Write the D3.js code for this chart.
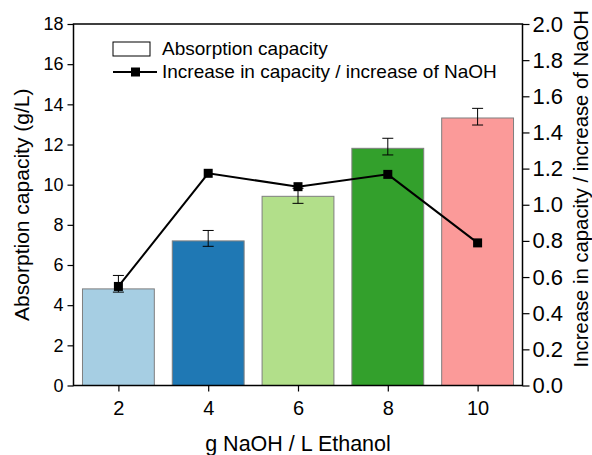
<!DOCTYPE html>
<html>
<head>
<meta charset="utf-8">
<script src="https://cdn.jsdelivr.net/npm/d3@7"></script>
<style>
  body { margin: 0; background: #fff; }
  svg text { font-family: Arial, "Liberation Sans", sans-serif; fill: #000; }
</style>
</head>
<body>
<svg id="chart" width="592" height="455"></svg>
<script>
// NaOH concentration (g/L ethanol)
const naoh = [2, 4, 6, 8, 10];
// absorption capacity (g/L) with lower / upper error
const capacity = [4.81, 7.2, 9.42, 11.81, 13.32];
const errLow = [0.16, 0.27, 0.35, 0.33, 0.35];
const errHigh = [0.67, 0.52, 0.4, 0.5, 0.48];
// increase in capacity / increase of NaOH (right axis)
const ratio = [0.548, 1.174, 1.10, 1.168, 0.789];
const barColors = ["#a6cee3", "#1f78b4", "#b2df8a", "#33a02c", "#fb9a99"];
const leftTicks = d3.range(0, 19, 2);
const rightTicks = d3.range(0, 2.01, 0.2);

const svg = d3.select("#chart");
const m = { left: 73.5, right: 522.5, top: 24, bottom: 385.5 };

const x = d3.scaleLinear().domain([1, 11]).range([m.left, m.right]);
const yL = d3.scaleLinear().domain([0, 18]).range([m.bottom, m.top]);
const yR = d3.scaleLinear().domain([0, 2]).range([m.bottom, m.top]);
const barW = x(2.6) - x(1);

// bars
svg.append("g")
  .selectAll("rect")
  .data(naoh)
  .enter()
  .append("rect")
  .attr("x", (d) => x(d) - barW / 2)
  .attr("y", (d, i) => yL(capacity[i]))
  .attr("width", barW)
  .attr("height", (d, i) => yL(0) - yL(capacity[i]))
  .style("fill", (d, i) => barColors[i])
  .style("stroke", "#7f7f7f")
  .style("stroke-width", 1);

// error bars
const eb = svg.append("g").style("stroke", "#000").style("stroke-width", 1);
naoh.forEach((d, i) => {
  const lo = yL(capacity[i] - errLow[i]);
  const hi = yL(capacity[i] + errHigh[i]);
  eb.append("line").attr("x1", x(d)).attr("x2", x(d)).attr("y1", lo).attr("y2", hi);
  eb.append("line").attr("x1", x(d) - 5.5).attr("x2", x(d) + 5.5).attr("y1", lo).attr("y2", lo);
  eb.append("line").attr("x1", x(d) - 5.5).attr("x2", x(d) + 5.5).attr("y1", hi).attr("y2", hi);
});

// line + markers
const line = d3.line().x((d) => x(d)).y((d, i) => yR(ratio[i]));
svg.append("path")
  .datum(naoh)
  .attr("d", line)
  .style("fill", "none")
  .style("stroke", "#000")
  .style("stroke-width", 2);
svg.append("g")
  .selectAll("rect")
  .data(naoh)
  .enter()
  .append("rect")
  .attr("x", (d) => x(d) - 4.5)
  .attr("y", (d, i) => yR(ratio[i]) - 4.5)
  .attr("width", 9)
  .attr("height", 9)
  .style("fill", "#000");

// axes
const axL = svg.append("g")
  .attr("transform", `translate(${m.left},0)`)
  .call(d3.axisLeft(yL).tickValues(leftTicks).tickSize(6).tickPadding(4));
const axR = svg.append("g")
  .attr("transform", `translate(${m.right},0)`)
  .call(d3.axisRight(yR).tickValues(rightTicks).tickSize(7).tickPadding(3).tickFormat(d3.format(".1f")));
const axB = svg.append("g")
  .attr("transform", `translate(0,${m.bottom})`)
  .call(d3.axisBottom(x).tickValues(naoh).tickSize(6).tickPadding(9));
[axL, axR, axB].forEach((a) => {
  a.select(".domain").remove();
  a.selectAll("line").style("stroke", "#000").style("stroke-width", 1.2);
});
axL.selectAll("text").style("font-size", "18px");
axR.selectAll("text").style("font-size", "22px");
axB.selectAll("text").style("font-size", "20px");

// frame
svg.append("rect")
  .attr("x", m.left)
  .attr("y", m.top)
  .attr("width", m.right - m.left)
  .attr("height", m.bottom - m.top)
  .style("fill", "none")
  .style("stroke", "#000")
  .style("stroke-width", 1.5);

// axis titles
svg.append("text")
  .attr("transform", `translate(29,${(m.top + m.bottom) / 2}) rotate(-90)`)
  .attr("text-anchor", "middle")
  .style("font-size", "21px")
  .text("Absorption capacity (g/L)");
svg.append("text")
  .attr("transform", `translate(588,${(m.top + m.bottom) / 2 - 16}) rotate(-90)`)
  .attr("text-anchor", "middle")
  .style("font-size", "20.3px")
  .text("Increase in capacity / increase of NaOH");
svg.append("text")
  .attr("x", (m.left + m.right) / 2)
  .attr("y", 451)
  .attr("text-anchor", "middle")
  .style("font-size", "21.5px")
  .text("g NaOH / L Ethanol");

// legend
const lg = svg.append("g");
lg.append("rect")
  .attr("x", 113).attr("y", 42).attr("width", 37).attr("height", 14)
  .style("fill", "#fff").style("stroke", "#000").style("stroke-width", 1);
lg.append("text").attr("x", 162).attr("y", 55).style("font-size", "19px").text("Absorption capacity");
lg.append("line")
  .attr("x1", 113).attr("x2", 157).attr("y1", 72).attr("y2", 72)
  .style("stroke", "#000").style("stroke-width", 2);
lg.append("rect").attr("x", 131).attr("y", 67.5).attr("width", 9).attr("height", 9).style("fill", "#000");
lg.append("text").attr("x", 162).attr("y", 78).style("font-size", "19px").text("Increase in capacity / increase of NaOH");
</script>
</body>
</html>
